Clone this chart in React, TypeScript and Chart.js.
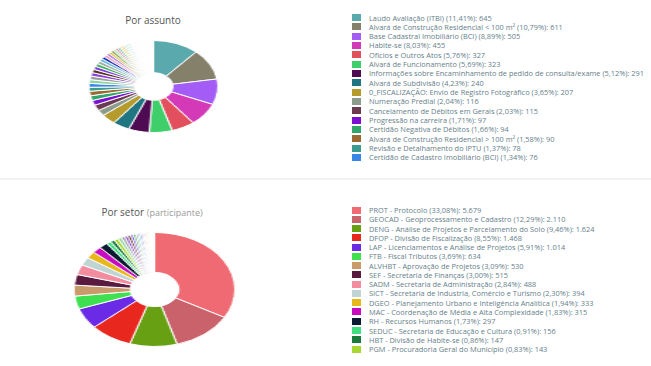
import React, { useEffect, useRef } from "react";
import { Chart, registerables } from "chart.js";
Chart.register(...registerables);

// ---------- Por assunto ----------
const assuntoLabels = [
  "Laudo Avaliação (ITBI)",
  "Alvará de Construção Residencial < 100 m²",
  "Base Cadastral Imobiliário (BCI)",
  "Habite-se",
  "Ofícios e Outros Atos",
  "Alvará de Funcionamento",
  "Informações sobre Encaminhamento de pedido de consulta/exame",
  "Alvará de Subdivisão",
  "0_FISCALIZAÇÃO: Envio de Registro Fotográfico",
  "Numeração Predial",
  "Cancelamento de Débitos em Gerais",
  "Progressão na carreira",
  "Certidão Negativa de Débitos",
  "Alvará de Construção Residencial > 100 m²",
  "Revisão e Detalhamento do IPTU",
  "Certidão de Cadastro Imobiliário (BCI)",
];
const assuntoPct = [11.41, 10.79, 8.89, 8.03, 5.76, 5.69, 5.12, 4.23, 3.65, 2.04, 2.03, 1.71, 1.66, 1.58, 1.37, 1.34];
const assuntoValues = [645, 611, 505, 455, 327, 323, 291, 240, 207, 116, 115, 97, 94, 90, 78, 76];
const assuntoColors = [
  "#5aa9ad", "#85806a", "#a35cf5", "#d43ab8", "#e2505e", "#3fcf6a", "#4f0b52", "#1f7582",
  "#b59a2c", "#8c9c8c", "#6a3b50", "#7a0fcf", "#31a66a", "#9b6a32", "#3a9c8e", "#3a86e6",
];
// remaining (unlisted) subjects, estimated
const assuntoOutros = [
  74, 72, 69, 66, 63, 60, 57, 54, 51, 48, 45, 42, 40, 38, 36, 34, 32, 30, 28, 26,
  24, 22, 20, 19, 18, 17, 16, 15, 14, 13, 12, 12, 11, 10, 10, 9, 9, 8, 8, 7, 7, 7,
  6, 6, 6, 5, 5, 5, 5, 4, 4, 4, 4, 3, 3, 3, 3, 3, 2, 2, 2, 2, 2, 2, 1, 1, 1, 1, 1, 1, 1, 1,
];

// ---------- Por setor ----------
const setorLabels = [
  "PROT - Protocolo",
  "GEOCAD - Geoprocessamento e Cadastro",
  "DENG - Análise de Projetos e Parcelamento do Solo",
  "DFOP - Divisão de Fiscalização",
  "LAP - Licenciamentos e Análise de Projetos",
  "FTB - Fiscal Tributos",
  "ALVHBT - Aprovação de Projetos",
  "SEF - Secretaria de Finanças",
  "SADM - Secretaria de Administração",
  "SICT - Secretaria de Industria, Comércio e Turismo",
  "DGEO - Planejamento Urbano e Inteligência Analítica",
  "MAC - Coordenação de Média e Alta Complexidade",
  "RH - Recursos Humanos",
  "SEDUC - Secretaria de Educação e Cultura",
  "HBT - Divisão de Habite-se",
  "PGM - Procuradoria Geral do Município",
];
const setorPct = [33.08, 12.29, 9.46, 8.55, 5.91, 3.69, 3.09, 3.0, 2.84, 2.3, 1.94, 1.83, 1.73, 0.91, 0.86, 0.83];
const setorValues = [5679, 2110, 1624, 1468, 1014, 634, 530, 515, 488, 394, 333, 315, 297, 156, 147, 143];
const setorColors = [
  "#ef6a72", "#c9626a", "#67a012", "#e8281e", "#6a2ae6", "#3ee050", "#c99a6a", "#5a1a40",
  "#f48ca0", "#c0d4d4", "#e8b81a", "#c80ac0", "#0a1a30", "#40e080", "#1a7a3a", "#a8d830",
];
const setorOutros = [
  125, 118, 110, 102, 95, 88, 80, 72, 65, 58, 50, 44, 38, 32, 28, 24, 20, 18, 16, 14,
  12, 10, 9, 8, 7, 6, 5, 5, 4, 4, 3, 3, 2, 2, 2, 1, 1, 1,
];

// palettes used for the unlisted small slices (vivid first, then pale)
const vividPalette = [
  "#8fd3a0", "#9aa0a0", "#8a3fd0", "#5a3020", "#7a40e0", "#40b060", "#a0a8a0", "#60b8e0",
  "#1b2bb0", "#f0a0c0", "#b080e0", "#e0c040", "#7a8a3a", "#90e8a8", "#f07890", "#40b0b0",
  "#f0e060", "#f0a040", "#a0e8b8", "#90d8e8",
];
const palePalette = [
  "#d8d0ec", "#e6e6e6", "#e4dcf0", "#eaf0f2", "#f0e6ee", "#dfe4ee", "#ece8f4", "#f4f4f4",
];

function fmtNum(n: number) {
  return String(n).replace(/\B(?=(\d{3})+(?!\d))/g, ".");
}
function fmtPct(p: number) {
  return p.toFixed(2).replace(".", ",");
}

type PieProps = {
  labels: string[];
  values: number[];
  colors: string[];
  extra: number[];
  vividCount: number;
  left: number;
  top: number;
  size: number;
  sx: number;
};

function Pie({ labels, values, colors, extra, vividCount, left, top, size, sx }: PieProps) {
  const ref = useRef<HTMLCanvasElement>(null);
  useEffect(() => {
    const data = [...values, ...extra];
    const lbls = [...labels, ...extra.map((_, i) => "Outro " + (i + 1))];
    const bg = [
      ...colors,
      ...extra.map((_, i) =>
        i < vividCount ? vividPalette[i % vividPalette.length] : palePalette[i % palePalette.length]
      ),
    ];
    const chart = new Chart(ref.current!, {
      type: "doughnut",
      data: {
        labels: lbls,
        datasets: [{ data, backgroundColor: bg, borderColor: "#ffffff", borderWidth: 1 }],
      },
      options: {
        animation: false,
        responsive: true,
        maintainAspectRatio: false,
        cutout: "30%",
        layout: { padding: 0 },
        plugins: { legend: { display: false }, tooltip: { enabled: false } },
      },
    });
    return () => chart.destroy();
  }, []);
  return (
    <div
      style={{
        position: "absolute",
        left,
        top,
        width: size,
        height: size,
        transform: `scaleX(${sx})`,
        transformOrigin: "50% 50%",
      }}
    >
      <canvas ref={ref} />
    </div>
  );
}

function Legend({
  labels, pct, values, colors, y0, step,
}: { labels: string[]; pct: number[]; values: number[]; colors: string[]; y0: number; step: number }) {
  return (
    <>
      {labels.map((l, i) => {
        const cy = y0 + i * step;
        return (
          <React.Fragment key={i}>
            <div
              style={{
                position: "absolute",
                left: 352,
                top: cy - 3.5,
                width: 9,
                height: 7,
                background: colors[i],
              }}
            />
            <div
              style={{
                position: "absolute",
                left: 369,
                top: cy - 5,
                height: 10,
                lineHeight: "10px",
                fontSize: 7.4,
                fontFamily: "'Open Sans', sans-serif",
                color: "#66808a",
                whiteSpace: "nowrap",
              }}
            >
              {`${l} (${fmtPct(pct[i])}%): ${fmtNum(values[i])}`}
            </div>
          </React.Fragment>
        );
      })}
    </>
  );
}

export default function App() {
  return (
    <div
      style={{
        position: "absolute",
        left: 0,
        top: 0,
        width: 651,
        height: 366,
        background: "#ffffff",
        overflow: "hidden",
        fontFamily: "'Open Sans', sans-serif",
      }}
    >
      <div
        style={{
          position: "absolute",
          left: 53,
          width: 200,
          top: 13,
          textAlign: "center",
          fontSize: 10,
          lineHeight: "14px",
          color: "#555555",
        }}
      >
        Por assunto
      </div>
      <Pie
        labels={assuntoLabels}
        values={assuntoValues}
        colors={assuntoColors}
        extra={assuntoOutros}
        vividCount={22}
        left={106.5}
        top={40}
        size={93}
        sx={1.4}
      />
      <Legend labels={assuntoLabels} pct={assuntoPct} values={assuntoValues} colors={assuntoColors} y0={17.5} step={9.33} />

      <div style={{ position: "absolute", left: 0, top: 178, width: 651, height: 2, background: "#f2f2f2" }} />

      <div
        style={{
          position: "absolute",
          left: 52,
          width: 200,
          top: 205,
          textAlign: "center",
          fontSize: 10,
          lineHeight: "14px",
          color: "#555555",
          whiteSpace: "nowrap",
        }}
      >
        Por setor <span style={{ fontSize: 9, color: "#9a9a9a" }}>(participante)</span>
      </div>
      <Pie
        labels={setorLabels}
        values={setorValues}
        colors={setorColors}
        extra={setorOutros}
        vividCount={16}
        left={96.5}
        top={232}
        size={115}
        sx={1.41}
      />
      <Legend labels={setorLabels} pct={setorPct} values={setorValues} colors={setorColors} y0={210} step={9.27} />
    </div>
  );
}
